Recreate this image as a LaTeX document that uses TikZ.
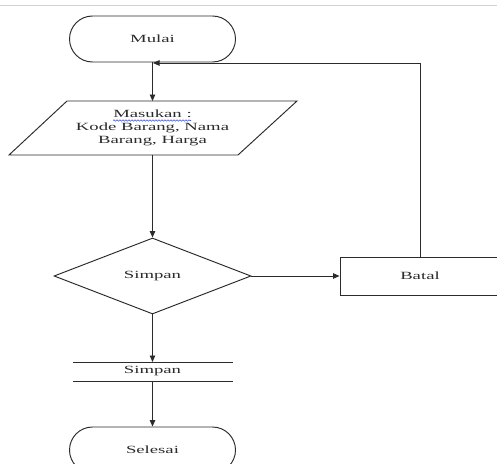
\documentclass[tikz,border=0pt]{standalone}
\usepackage{fontspec}
\setmainfont{Liberation Serif}[FakeStretch=1.7]
\usetikzlibrary{shapes.geometric,arrows.meta,decorations.pathmorphing}
\definecolor{ink}{HTML}{2B2B2B}
\definecolor{spell}{HTML}{4A5BD0}
\tikzset{
  x=1pt, y=-1pt,
  every node/.style={font=\fontsize{11}{13}\selectfont, text=ink},
  flowline/.style={draw=ink, line width=0.95pt},
  flowarrow/.style={flowline, -{Triangle[length=6.5pt,width=5.5pt]}},
  terminal/.style={draw=ink, line width=0.95pt, rectangle, rounded corners=23pt,
    minimum width=166pt, minimum height=46pt, inner sep=0pt},
  decision/.style={draw=ink, line width=0.95pt, diamond, aspect=2.6,
    minimum width=197pt, minimum height=76pt, inner sep=0pt},
  process/.style={draw=ink, line width=0.95pt, rectangle,
    minimum width=160pt, minimum height=38pt, inner sep=0pt},
}
\begin{document}
\begin{tikzpicture}
\useasboundingbox (0,0) rectangle (497,463);
\fill[white] (0,0) rectangle (497,463);

% thin rule along the top edge
\draw[gray!35, line width=0.8pt] (0,5) -- (497,5);

% start terminal
\node[terminal] (start) at (152.5,39) {Mulai};

% input parallelogram
\coordinate (iotl) at (67,101);
\coordinate (iotr) at (297,101);
\coordinate (iobr) at (238,155);
\coordinate (iobl) at (9,155);
\coordinate (iotop) at (152.5,101);
\coordinate (iobot) at (152.5,155);
\draw[flowline, line join=miter] (iotl) -- (iotr) -- (iobr) -- (iobl) -- cycle;
\node[align=center, inner sep=0pt] (io) at (152.5,128)
  {Masukan :\\Kode Barang, Nama\\Barang, Harga};
% spell-check squiggle under the first line
\draw[spell, line width=0.6pt, decorate,
  decoration={snake, amplitude=0.7pt, segment length=3pt}] (113,120.5) -- (191,120.5);

% decision
\node[decision] (dec) at (152.5,276) {Simpan};

% cancel box
\node[process] (batal) at (420,276) {Batal};

% data store
\coordinate (sttl) at (73,362);
\coordinate (sttr) at (233,362);
\coordinate (stbl) at (73,381);
\coordinate (stbr) at (233,381);
\coordinate (sttop) at (152.5,362);
\coordinate (stbot) at (152.5,381);
\draw[draw=ink, line width=0.8pt] (sttl) -- (sttr);
\draw[draw=ink, line width=0.8pt] (stbl) -- (stbr);
\node[inner sep=0pt] (store) at (152.5,371.5) {Simpan};

% end terminal
\node[terminal] (stop) at (152.5,450) {Selesai};

% connectors
\draw[flowarrow] (start.south) -- (iotop);
\draw[flowarrow] (iobot) -- (dec.north);
\draw[flowarrow] (dec.east) -- (batal.west);
\draw[flowarrow] (dec.south) -- (sttop);
\draw[flowarrow] (stbot) -- (stop.north);
\coordinate (loopin) at (153,63);
\draw[flowarrow] (batal.north) |- (loopin);
\end{tikzpicture}
\end{document}
